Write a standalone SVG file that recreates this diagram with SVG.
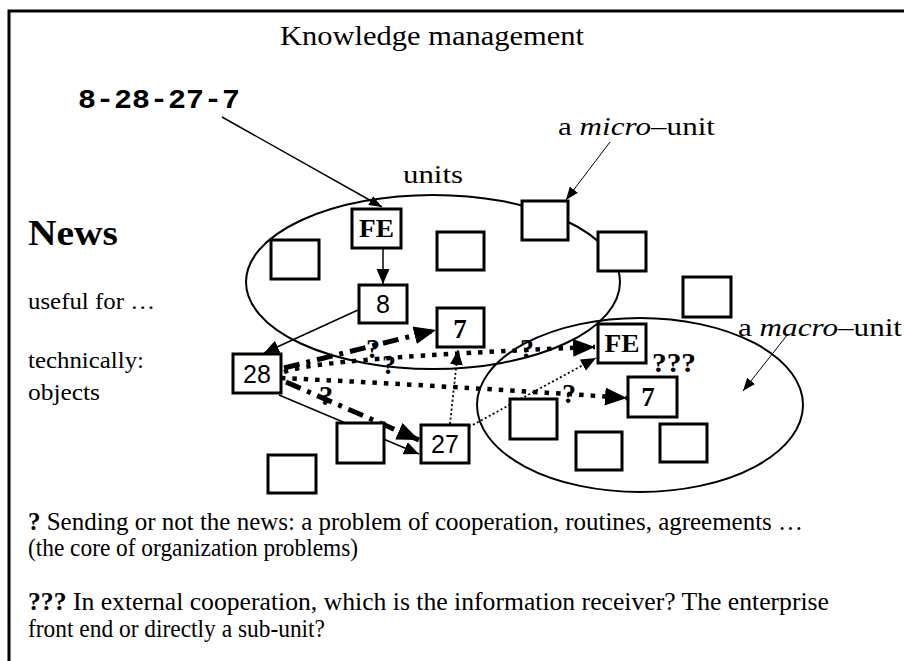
<svg xmlns="http://www.w3.org/2000/svg" width="904" height="661" viewBox="0 0 904 661">
<style>
.t{font-family:"Liberation Serif","Times New Roman",serif;fill:#000}
.box{fill:#fff;stroke:#000;stroke-width:3}
.lbl{font-family:"Liberation Sans",Arial,sans-serif;font-size:25px;text-anchor:middle;fill:#000}
.lbl7{font-family:"Liberation Serif","Times New Roman",serif;font-weight:bold;font-size:27px;text-anchor:middle;fill:#000}
.fe{font-family:"Liberation Serif","Times New Roman",serif;font-weight:bold;font-size:25px;text-anchor:middle;fill:#000}
.ell{fill:none;stroke:#000;stroke-width:2}
.thin{fill:none;stroke:#000;stroke-width:1.5}
.thick-dd{fill:none;stroke:#000;stroke-width:5;stroke-dasharray:16,7,4,7}
.thick-dot{fill:none;stroke:#000;stroke-width:4.5;stroke-dasharray:4.5,7}
.thin-dot{fill:none;stroke:#000;stroke-width:1.8;stroke-dasharray:2,2.5}
.q{font-family:"Liberation Serif","Times New Roman",serif;font-weight:bold;font-size:28px;fill:#000}
</style>
<defs>
<marker id="big" markerUnits="userSpaceOnUse" markerWidth="24" markerHeight="20" refX="22" refY="10" orient="auto"><path d="M0,1 L22,10 L0,19 z" fill="#000" stroke="none"/></marker>
<marker id="sm" markerUnits="userSpaceOnUse" markerWidth="14" markerHeight="12" refX="13" refY="6" orient="auto"><path d="M0,1 L13,6 L0,11 z" fill="#000" stroke="none"/></marker>
<marker id="md" markerUnits="userSpaceOnUse" markerWidth="16" markerHeight="14" refX="15" refY="7" orient="auto"><path d="M0,0.5 L15,7 L0,13.5 z" fill="#000" stroke="none"/></marker>
</defs>
<rect width="904" height="661" fill="#fff"/>
<rect x="9" y="11" width="1000" height="800" fill="none" stroke="#000" stroke-width="3"/>

<g id="texts">
<text class="t" x="280" y="45" font-size="28" textLength="304" lengthAdjust="spacingAndGlyphs">Knowledge management</text>
<text x="78" y="108" font-family="'Liberation Mono','Courier New',monospace" font-weight="bold" font-size="27" textLength="162" lengthAdjust="spacingAndGlyphs">8-28-27-7</text>
<text class="t" x="558" y="135" font-size="26" textLength="157" lengthAdjust="spacingAndGlyphs">a <tspan font-style="italic">micro</tspan>–unit</text>
<text class="t" x="403" y="183" font-size="26" textLength="60" lengthAdjust="spacingAndGlyphs">units</text>
<text class="t" x="28" y="245" font-size="36" font-weight="bold" textLength="90" lengthAdjust="spacingAndGlyphs">News</text>
<text class="t" x="28" y="309" font-size="23" textLength="127" lengthAdjust="spacingAndGlyphs">useful for …</text>
<text class="t" x="28" y="368" font-size="23" textLength="116" lengthAdjust="spacingAndGlyphs">technically:</text>
<text class="t" x="28" y="400" font-size="23" textLength="72" lengthAdjust="spacingAndGlyphs">objects</text>
<text class="t" x="738" y="336" font-size="26" textLength="164" lengthAdjust="spacingAndGlyphs">a <tspan font-style="italic">macro</tspan>–unit</text>
<text class="q" x="652" y="372" textLength="44" lengthAdjust="spacingAndGlyphs">???</text>
<text class="t" x="28" y="530" font-size="25" textLength="775" lengthAdjust="spacingAndGlyphs"><tspan font-weight="bold">?</tspan> Sending or not the news: a problem of cooperation, routines, agreements …</text>
<text class="t" x="28" y="556" font-size="25" textLength="330" lengthAdjust="spacingAndGlyphs">(the core of organization problems)</text>
<text class="t" x="28" y="610" font-size="25" textLength="801" lengthAdjust="spacingAndGlyphs"><tspan font-weight="bold">???</tspan> In external cooperation, which is the information receiver? The enterprise</text>
<text class="t" x="28" y="637" font-size="25" textLength="297" lengthAdjust="spacingAndGlyphs">front end or directly a sub-unit?</text>
</g>

<g id="units-ellipse"><ellipse class="ell" cx="433" cy="282" rx="187" ry="87"/></g>
<g id="macro-ellipse"><ellipse class="ell" cx="640" cy="405" rx="163" ry="87"/></g>

<g id="connectors">
<line class="thin" x1="222" y1="117" x2="382" y2="207" marker-end="url(#sm)"/>
<line class="thin" x1="383" y1="248" x2="383" y2="284" marker-end="url(#md)"/>
<line class="thin" x1="358" y1="310" x2="264" y2="353" marker-end="url(#md)"/>
<line class="thin" x1="279" y1="395" x2="419" y2="454" marker-end="url(#md)"/>
<path class="thick-dd" d="M284,368 L436,330" marker-end="url(#big)"/>
<path class="thick-dot" d="M284,372 Q320,358 595,347" marker-end="url(#big)"/>
<path class="thick-dot" d="M281,378 Q450,386 627,398" marker-end="url(#big)"/>
<path class="thick-dd" d="M286,382 L419,440" marker-end="url(#big)"/>
<path class="thin-dot" d="M450,424 L458,350" marker-end="url(#md)"/>
<path class="thin-dot" d="M469,427 L596,358" marker-end="url(#md)"/>
<line x1="610" y1="142" x2="566" y2="200" stroke="#000" stroke-width="1" marker-end="url(#sm)"/>
<line x1="788" y1="334" x2="743" y2="391" stroke="#000" stroke-width="1" marker-end="url(#sm)"/>
<text class="q" x="366" y="358">?</text>
<text class="q" x="382" y="374">?</text>
<text class="q" x="319" y="405">?</text>
<text class="q" x="520" y="358">?</text>
<text class="q" x="562" y="403">?</text>
</g>

<g id="node-fe1"><rect class="box" x="352" y="209" width="49" height="39"/><text class="fe" x="376.5" y="237" textLength="35" lengthAdjust="spacingAndGlyphs">FE</text></g>
<g id="node-a"><rect class="box" x="271" y="240" width="48" height="39"/></g>
<g id="node-b"><rect class="box" x="437" y="232" width="47" height="38"/></g>
<g id="node-micro"><rect class="box" x="522" y="201" width="46" height="39"/></g>
<g id="node-c"><rect class="box" x="598" y="232" width="48" height="39"/></g>
<g id="node-d"><rect class="box" x="683" y="277" width="48" height="40"/></g>
<g id="node-8"><rect class="box" x="359" y="285" width="48" height="38"/><text class="lbl" x="383" y="313">8</text></g>
<g id="node-28"><rect class="box" x="233" y="354" width="48" height="39"/><text class="lbl" x="257" y="383">28</text></g>
<g id="node-7a"><rect class="box" x="437" y="308" width="47" height="39"/><text class="lbl7" x="460" y="338">7</text></g>
<g id="node-e"><rect class="box" x="337" y="423" width="47" height="40"/></g>
<g id="node-27"><rect class="box" x="421" y="425" width="48" height="38"/><text class="lbl" x="445" y="453">27</text></g>
<g id="node-f"><rect class="box" x="268" y="455" width="48" height="38"/></g>
<g id="node-fe2"><rect class="box" x="598" y="324" width="48" height="39"/><text class="fe" x="622" y="352" textLength="35" lengthAdjust="spacingAndGlyphs">FE</text></g>
<g id="node-7b"><rect class="box" x="628" y="377" width="49" height="40"/><text class="lbl7" x="648" y="406">7</text></g>
<g id="node-g"><rect class="box" x="510" y="399" width="47" height="40"/></g>
<g id="node-h"><rect class="box" x="576" y="432" width="46" height="38"/></g>
<g id="node-i"><rect class="box" x="660" y="424" width="47" height="38"/></g>
</svg>
